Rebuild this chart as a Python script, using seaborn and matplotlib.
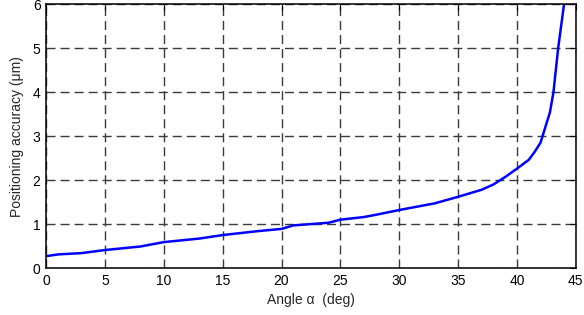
import numpy as np
import pandas as pd
import matplotlib
matplotlib.use("Agg")
import matplotlib.pyplot as plt
import seaborn as sns

# angle alpha (deg) vs positioning accuracy (um)
angle = [0, 1, 3, 5, 8, 10, 13, 15, 18, 20, 21, 22, 24, 25, 27, 28, 30, 32, 33,
         35, 37, 38, 39, 40, 41, 41.5, 42, 42.8, 43.1, 43.5, 44]
accuracy = [0.27, 0.31, 0.34, 0.41, 0.49, 0.59, 0.67, 0.75, 0.84, 0.89, 0.97, 0.99, 1.03,
            1.1, 1.16, 1.21, 1.32, 1.42, 1.47, 1.62, 1.78, 1.9, 2.07, 2.26, 2.46, 2.64,
            2.85, 3.54, 4.0, 5.0, 6.0]

df = pd.DataFrame({"angle": angle, "accuracy": accuracy})

sns.set_style("white")
plt.rcParams["font.family"] = ["Liberation Sans", "DejaVu Sans"]

fig = plt.figure(figsize=(5.84, 3.15), dpi=100)
ax = fig.add_axes([0.079, 0.149, 0.907, 0.838])

sns.lineplot(data=df, x="angle", y="accuracy", color="#0000ff", linewidth=1.8,
             ax=ax, sort=False)

ax.set_xlim(0, 45)
ax.set_ylim(0, 6)
ax.set_xticks(range(0, 46, 5))
ax.set_yticks(range(0, 7))
ax.grid(True, color="#3a3a3a", linestyle=(0, (6.5, 3.6)), linewidth=1.0)
ax.tick_params(direction="in", length=4, labelsize=10, top=True, right=True,
               pad=4, colors="black")
for s in ax.spines.values():
    s.set_color("black")
    s.set_linewidth(1.1)
ax.set_xlabel("Angle α  (deg)", fontsize=10, labelpad=4)
ax.set_ylabel("Positioning accuracy (μm)", fontsize=10, labelpad=6)

fig.savefig("out.png", dpi=100)
